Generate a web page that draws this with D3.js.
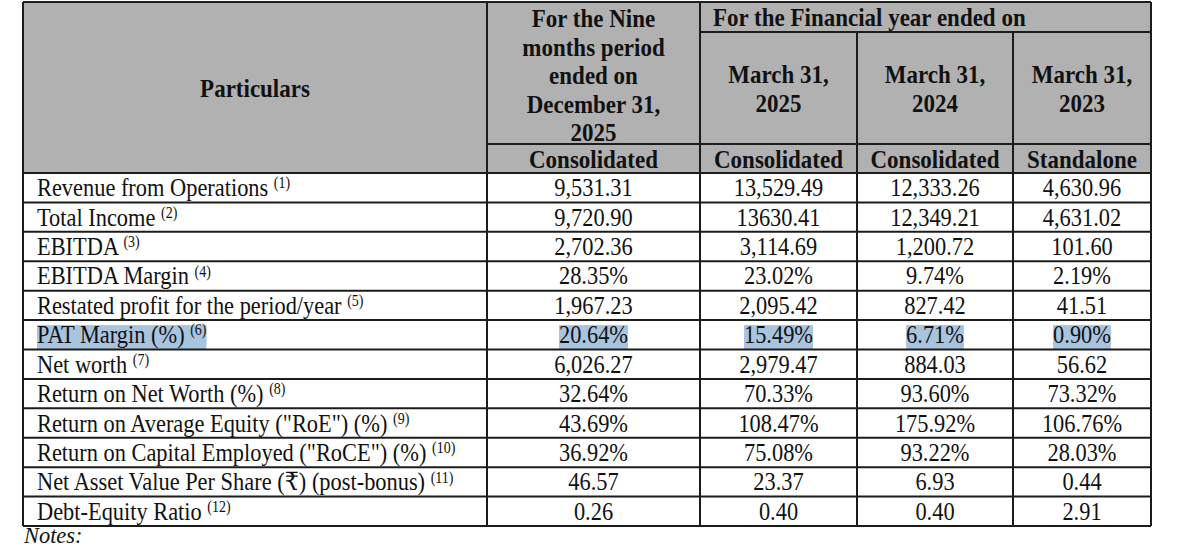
<!DOCTYPE html>
<html lang="en">
<head>
<meta charset="UTF-8">
<title>Key financial indicators</title>
<script src="https://d3js.org/d3.v7.min.js"></script>
<style>
    body { margin: 0; background: #fff; }
    text { font-family: "Liberation Serif", "Times New Roman", "DejaVu Serif", serif; fill: #111; }
    .head { font-weight: bold; font-size: 23px; }
    .cell { font-size: 22.4px; }
    .sup { font-size: 14px; }
</style>
</head>
<body>
<div id="chart"></div>
<script>
// table content
const particulars = [
    "Revenue from Operations",
    "Total Income",
    "EBITDA",
    "EBITDA Margin",
    "Restated profit for the period/year",
    "PAT Margin (%)",
    "Net worth",
    "Return on Net Worth (%)",
    "Return on Average Equity (\"RoE\") (%)",
    "Return on Capital Employed (\"RoCE\") (%)",
    "Net Asset Value Per Share (\u20B9) (post-bonus)",
    "Debt-Equity Ratio"
];
const noteRefs = ["1", "2", "3", "4", "5", "6", "7", "8", "9", "10", "11", "12"];

const nineMonthsDec2025 = ["9,531.31", "9,720.90", "2,702.36", "28.35%", "1,967.23", "20.64%",
    "6,026.27", "32.64%", "43.69%", "36.92%", "46.57", "0.26"];
const fyMar2025 = ["13,529.49", "13630.41", "3,114.69", "23.02%", "2,095.42", "15.49%",
    "2,979.47", "70.33%", "108.47%", "75.08%", "23.37", "0.40"];
const fyMar2024 = ["12,333.26", "12,349.21", "1,200.72", "9.74%", "827.42", "6.71%",
    "884.03", "93.60%", "175.92%", "93.22%", "6.93", "0.40"];
const fyMar2023 = ["4,630.96", "4,631.02", "101.60", "2.19%", "41.51", "0.90%",
    "56.62", "73.32%", "106.76%", "28.03%", "0.44", "2.91"];

const periodHeadLines = ["For the Nine", "months period", "ended on", "December 31,", "2025"];
const fyGroupHead = "For the Financial year ended on";
const yearHeads = [["March 31,", "2025"], ["March 31,", "2024"], ["March 31,", "2023"]];
const basisHeads = ["Consolidated", "Consolidated", "Consolidated", "Standalone"];
const highlightedRow = "PAT Margin (%)";

const columns = [nineMonthsDec2025, fyMar2025, fyMar2024, fyMar2023];

// layout
const width = 1200, height = 549;
const stretch = 1.12; // the scan's glyphs are a bit taller than wide
const svg = d3.select("#chart").append("svg").attr("width", width).attr("height", height);

const x = d3.scaleLinear().domain([0, 1, 2, 3, 4, 5]).range([23, 487, 700, 857, 1013, 1151]);
const headTop = 2, groupBottom = 32, basisTop = 144, headBottom = 173;
const y = d3.scaleBand().domain(d3.range(particulars.length)).range([headBottom, 526]);
const lineColor = "#1c1c1c";

function addText(g, tx, ty, cls, anchor, sy) {
    return g.append("text")
        .attr("class", cls)
        .attr("text-anchor", anchor || "start")
        .attr("transform", `translate(${tx},${ty}) scale(1,${sy || stretch})`);
}

// header background
svg.append("rect")
    .attr("x", x(0)).attr("y", headTop)
    .attr("width", x(5) - x(0)).attr("height", headBottom - headTop)
    .attr("fill", "#b1b1b1");

// header texts
addText(svg, (x(0) + x(1)) / 2, (headTop + headBottom) / 2 + 9, "head", "middle").text("Particulars");

periodHeadLines.forEach((t, i) => {
    addText(svg, (x(1) + x(2)) / 2, 27 + i * 28.5, "head", "middle").text(t);
});

addText(svg, x(2) + 13, (headTop + groupBottom) / 2 + 9, "head").text(fyGroupHead);

yearHeads.forEach((lines, j) => {
    lines.forEach((t, i) => {
        addText(svg, (x(j + 2) + x(j + 3)) / 2, (groupBottom + basisTop) / 2 - 14 + 9 + i * 28.5, "head", "middle").text(t);
    });
});

basisHeads.forEach((t, j) => {
    addText(svg, (x(j + 1) + x(j + 2)) / 2, (basisTop + headBottom) / 2 + 9, "head", "middle").text(t);
});

// body rows
const hlLayer = svg.append("g");
const rows = svg.append("g");

particulars.forEach((label, i) => {
    const cy = y(i) + y.bandwidth() / 2 + 8.5;
    const lbl = addText(rows, 37, cy, "cell");
    lbl.append("tspan").text(label + " ");
    lbl.append("tspan").attr("class", "sup").attr("dy", -7).text("(" + noteRefs[i] + ")");

    const vals = columns.map((col, j) => {
        const cx = (x(j + 1) + x(j + 2)) / 2;
        const t = addText(rows, cx, cy, "cell", "middle").text(col[i]);
        t.datum(cx);
        return t;
    });
    lbl.datum(37);

    if (label === highlightedRow) {
        [lbl, ...vals].forEach(t => {
            const b = t.node().getBBox();
            hlLayer.append("rect")
                .attr("x", t.datum() + b.x).attr("width", b.width)
                .attr("y", y(i) + 5).attr("height", y.bandwidth() - 5)
                .attr("fill", "#a9c4de");
        });
    }
});

// grid lines
const grid = svg.append("g").attr("stroke", lineColor).attr("stroke-width", 2).attr("fill", "none");
const bottom = y.range()[1];
const hLines = [
    [x(0), x(5), headTop],
    [x(2), x(5), groupBottom],
    [x(1), x(5), basisTop],
    ...d3.range(particulars.length).map(i => [x(0), x(5), y(i)]),
    [x(0), x(5), bottom]
];
grid.selectAll(".h").data(hLines).join("line")
    .attr("class", "h")
    .attr("x1", d => d[0]).attr("x2", d => d[1])
    .attr("y1", d => d[2]).attr("y2", d => d[2]);

const vLines = [
    [x(0), headTop], [x(1), headTop], [x(2), headTop],
    [x(3), groupBottom], [x(4), groupBottom], [x(5), headTop]
];
grid.selectAll(".v").data(vLines).join("line")
    .attr("class", "v")
    .attr("x1", d => d[0]).attr("x2", d => d[0])
    .attr("y1", d => d[1]).attr("y2", bottom);

addText(svg, 24, 543, "cell", "start", 1.05).attr("font-style", "italic").text("Notes:");
</script>
</body>
</html>
